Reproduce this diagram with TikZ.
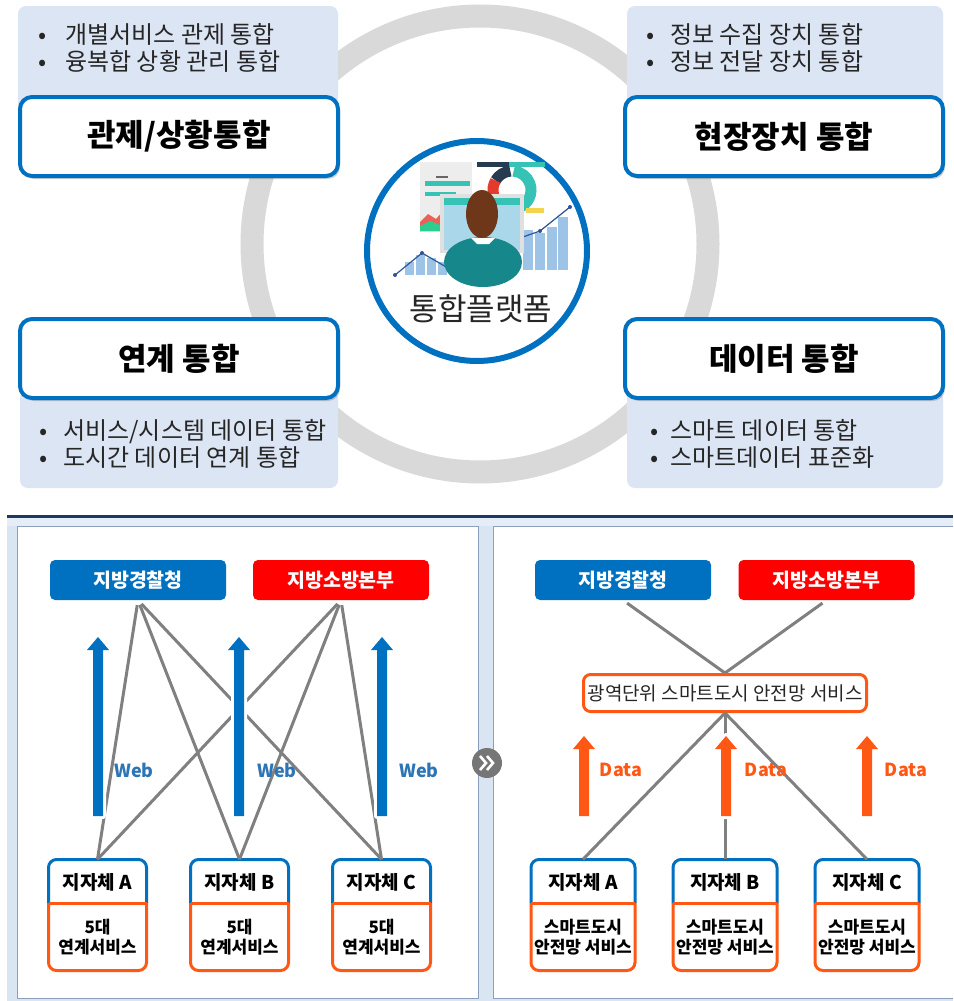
\documentclass[tikz,border=0pt]{standalone}
\usepackage{fontspec}
\newfontfamily\kr{Noto Sans CJK KR}
\usetikzlibrary{shadows}

\definecolor{cblue}{RGB}{0,112,192}
\definecolor{cred}{RGB}{255,0,0}
\definecolor{corange}{RGB}{255,88,20}
\definecolor{cpanel}{RGB}{220,229,244}
\definecolor{cring}{RGB}{217,217,217}
\definecolor{cline}{RGB}{128,128,128}
\definecolor{ctext}{RGB}{38,38,38}
\definecolor{cframe}{RGB}{218,229,243}
\definecolor{cnavy}{RGB}{32,56,100}
\definecolor{cborder}{RGB}{140,160,190}
\definecolor{cweb}{RGB}{46,117,182}
\definecolor{csep}{RGB}{118,118,118}
% illustration colours
\definecolor{ihair}{RGB}{110,55,25}
\definecolor{ishirt}{RGB}{22,136,140}
\definecolor{iscreen}{RGB}{170,216,234}
\definecolor{iteal}{RGB}{54,194,180}
\definecolor{ibar}{RGB}{157,195,230}
\definecolor{iline}{RGB}{47,85,151}
\definecolor{idark}{RGB}{38,58,80}
\definecolor{ired}{RGB}{229,59,44}
\definecolor{iorange}{RGB}{248,190,140}
\definecolor{iyellow}{RGB}{242,213,74}

\tikzset{
  panel/.style={fill=cpanel, rounded corners=8pt},
  titlebox/.style={draw=cblue, line width=4pt, fill=white, rounded corners=12pt,
    minimum width=318pt, minimum height=79pt, inner sep=0pt, text=black,
    font=\kr\bfseries\fontsize{31}{34}\selectfont,
    drop shadow={shadow xshift=2pt, shadow yshift=-3pt, opacity=0.3, fill=black!60}},
  bullets/.style={anchor=west, inner sep=0pt, text=ctext,
    font=\kr\fontsize{24}{25}\selectfont},
  agency/.style={rounded corners=5pt, minimum width=176pt, minimum height=40pt,
    inner sep=0pt, text=white, font=\kr\bfseries\fontsize{19.5}{22}\selectfont},
  hub/.style={draw=corange, line width=3pt, fill=white, rounded corners=7pt,
    minimum width=283pt, minimum height=37pt, inner sep=0pt, text=ctext,
    font=\kr\fontsize{19}{22}\selectfont},
  link/.style={draw=cline, line width=3pt},
  munibox/.style={minimum height=111pt, inner sep=0pt},
  munititle/.style={font=\kr\bfseries\fontsize{19}{22}\selectfont, inner sep=0pt},
  munitext/.style={font=\kr\bfseries\fontsize{17}{20}\selectfont, align=center, inner sep=0pt},
  flowlabel/.style={font=\kr\bfseries\fontsize{18}{20}\selectfont, inner sep=0pt},
}

% thick upward flow arrow with a white halo: x, tip y, colour
\newcommand\flowarrow[3]{%
  \path[fill=#3, preaction={draw=white, line width=6pt, line join=round}]
    ({#1-5},816) -- ({#1-5},{#2+13}) -- ({#1-11},{#2+13}) -- (#1,#2)
    -- ({#1+11},{#2+13}) -- ({#1+5},{#2+13}) -- ({#1+5},816) -- cycle;}

% local government box: name, centre x, half width, title, line 1, line 2
\newcommand\munibox[6]{%
  \node[munibox, minimum width={2*#3}] (#1) at (#2,915) {};
  \draw[cblue, line width=3pt, rounded corners=8pt]
    ({#2-#3},903) -- ({#2-#3},859.5) -- ({#2+#3},859.5) -- ({#2+#3},903);
  \draw[corange, line width=3pt, rounded corners=8pt]
    ({#2-#3},903) -- ({#2-#3},970.5) -- ({#2+#3},970.5) -- ({#2+#3},903);
  \draw[corange, line width=3pt] ({#2-#3},903) -- ({#2+#3},903);
  \node[munititle] (#1t) at (#2,882) {#4};
  \node[munitext] (#1s) at (#2,937) {#5\\#6};
}

% two-item bullet list: gap after the bullet, item 1, item 2
\newcommand\twoitems[3]{\begin{tabular}{@{}l@{\hspace{#1}}l@{}}•&#2\\•&#3\end{tabular}}

\begin{document}
\begin{tikzpicture}[x=1pt,y=-1pt]
\useasboundingbox (0,0) rectangle (953,1001);
\fill[white] (0,0) rectangle (953,1001);

% ---------------- upper part: integration overview ----------------
\draw[cring, line width=23pt] (480,244) circle[radius=228pt];

% description panels
\fill[panel] (18,6) rectangle (338,130);
\fill[panel] (627,6) rectangle (943,130);
\fill[panel] (20,390) rectangle (338,488);
\fill[panel] (627,390) rectangle (943,488);

\node[bullets] (b1) at (38,50.5) {\twoitems{19pt}{개별서비스 관제 통합}{융복합 상황 관리 통합}};
\node[bullets] (b2) at (646,50.5) {\twoitems{16pt}{정보 수집 장치 통합}{정보 전달 장치 통합}};
\node[bullets] (b3) at (39,446.5) {\twoitems{16pt}{서비스/시스템 데이터 통합}{도시간 데이터 연계 통합}};
\node[bullets] (b4) at (650,446.5) {\twoitems{12pt}{스마트 데이터 통합}{스마트데이터 표준화}};

% titles
\node[titlebox] (t1) at (179,136.5) {관제/상황통합};
\node[titlebox] (t2) at (784,136.5) {현장장치 통합};
\node[titlebox] (t3) at (179,358.5) {연계 통합};
\node[titlebox] (t4) at (784,358.5) {데이터 통합};

% central platform badge
\node[circle, draw=cblue, line width=6pt, fill=white, minimum size=220pt, inner sep=0pt,
  drop shadow={shadow xshift=1pt, shadow yshift=-2pt, opacity=0.2, fill=black!50}] (hubc) at (477,251) {};

% illustration: dashboards behind a person at a monitor
\fill[black!7] (420,162) rectangle (472,232);
\fill[iteal] (425,181) rectangle (470,186);
\fill[iteal] (425,192) rectangle (456,196);
\fill[black!60] (436,176) rectangle (448,178);
\fill[ired!80] (420,231) -- (420,222) -- (428,214) -- (436,219) -- (444,210) -- (452,215) -- (452,231) -- cycle;
\fill[iteal!80!green] (420,231) -- (420,226) -- (430,221) -- (440,225) -- (452,219) -- (452,231) -- cycle;
\fill[idark] (477,162) rectangle (509,167);
\fill[iteal] (509,162) rectangle (545,167);
\draw[idark, line width=11pt] (512,190) ++(95:19pt) arc[start angle=95, end angle=150, radius=19pt];
\draw[ired, line width=11pt] (512,190) ++(150:19pt) arc[start angle=150, end angle=235, radius=19pt];
\draw[iorange, line width=11pt] (512,190) ++(235:19pt) arc[start angle=235, end angle=290, radius=19pt];
\draw[iteal, line width=11pt] (512,190) ++(-70:19pt) arc[start angle=-70, end angle=85, radius=19pt];
\fill[iyellow] (526,208) rectangle (544,213);
% bar charts with trend lines
\foreach \xa/\ya in {405/262,416/255,427/258,438/262}
  \fill[ibar] (\xa,\ya) rectangle ({\xa+9},275);
\foreach \xa/\ya in {523/230,535/233,547/227,558/217}
  \fill[ibar] (\xa,\ya) rectangle ({\xa+10},270);
\draw[iline, line width=1.2pt] (395,275) -- (422,253) -- (448,268);
\fill[iline] (395,275) circle[radius=2pt] (422,253) circle[radius=2pt];
\draw[iline, line width=1.2pt] (520,238) -- (540,231) -- (570,207);
\fill[iline] (540,231) circle[radius=2pt] (570,207) circle[radius=2pt];
% monitor
\fill[black!12] (440,194) rectangle (524,253);
\fill[iscreen] (444,198) rectangle (520,250);
\fill[iteal] (444,198) rectangle (520,205);
% person
\fill[ishirt] (483,262) ellipse[x radius=39pt, y radius=25pt];
\fill[white] (471,238) -- (495,238) -- (489,244) -- (477,244) -- cycle;
\fill[ihair] (482,214) ellipse[x radius=16pt, y radius=24pt];

\node[font=\kr\fontsize{31}{34}\selectfont, text=ctext, inner sep=0pt] (plat) at (481,309) {통합플랫폼};

% ---------------- lower part: before / after comparison ----------------
\fill[cframe] (7,515) rectangle (953,1001);
\fill[cframe!70!white] (7,518) rectangle (953,526);
\draw[cnavy, line width=3pt] (7,516) -- (953,516);
\filldraw[fill=white, draw=cborder, line width=1pt] (17,526) rectangle (478,998);
\fill[white] (493,526) rectangle (953,998);
\draw[cborder, line width=1pt] (953,526) -- (493,526) -- (493,998) -- (953,998);

% left panel: every local government linked to every agency
\node[agency, fill=cblue] (pol1) at (138,580) {지방경찰청};
\node[agency, fill=cred] (fire1) at (341,580) {지방소방본부};
\munibox{la}{97.5}{49}{지자체 A}{5대}{연계서비스}
\munibox{lb}{239.5}{49}{지자체 B}{5대}{연계서비스}
\munibox{lc}{381.5}{49}{지자체 C}{5대}{연계서비스}
\foreach \a in {pol1,fire1}
  \foreach \m in {la,lb,lc}
    \draw[link, shorten <=5pt] (\a.south) -- (\m.north);
\flowarrow{98}{637}{cblue}
\flowarrow{239}{637}{cblue}
\flowarrow{382}{637}{cblue}
\node[flowlabel, text=cweb] (w1) at (134,770) {Web};
\node[flowlabel, text=cweb] (w2) at (277,770) {Web};
\node[flowlabel, text=cweb] (w3) at (419,770) {Web};

% right panel: links gathered through one regional service
\node[agency, fill=cblue] (pol2) at (623,580) {지방경찰청};
\node[agency, fill=cred] (fire2) at (826.5,580) {지방소방본부};
\node[hub] (hub) at (725,693) {광역단위 스마트도시 안전망 서비스};
\munibox{ra}{583}{52}{지자체 A}{스마트도시}{안전망 서비스}
\munibox{rb}{725}{52}{지자체 B}{스마트도시}{안전망 서비스}
\munibox{rc}{867}{52}{지자체 C}{스마트도시}{안전망 서비스}
\draw[link, shorten <=5pt] (pol2.south) -- (hub.north);
\draw[link, shorten <=5pt] (fire2.south) -- (hub.north);
\foreach \m in {ra,rb,rc}
  \draw[link] (hub.south) -- (\m.north);
\flowarrow{584}{736}{corange}
\flowarrow{726}{736}{corange}
\flowarrow{867}{736}{corange}
\node[flowlabel, text=corange] (d1) at (621,770) {Data};
\node[flowlabel, text=corange] (d2) at (766,770) {Data};
\node[flowlabel, text=corange] (d3) at (906,770) {Data};

% separator badge between the two panels
\node[circle, fill=csep, minimum size=30pt, inner sep=0pt] (sep) at (487,763) {};
\draw[white, line width=2.6pt] (480,756) -- (486,763) -- (480,770);
\draw[white, line width=2.6pt] (487,756) -- (493,763) -- (487,770);
\end{tikzpicture}
\end{document}
